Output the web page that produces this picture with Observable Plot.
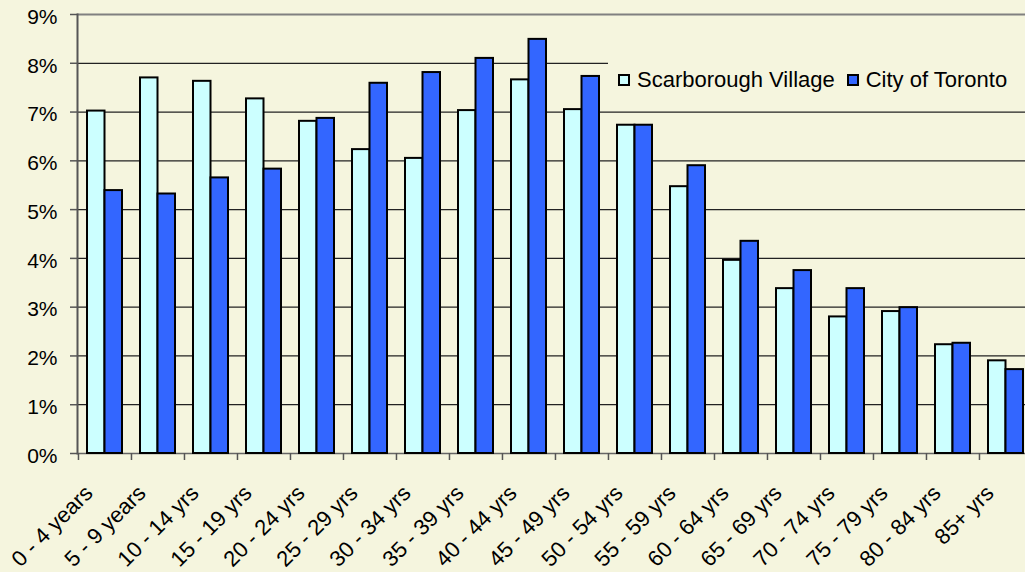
<!DOCTYPE html>
<html><head><meta charset="utf-8">
<script src="https://cdn.jsdelivr.net/npm/d3@7"></script>
<script src="https://cdn.jsdelivr.net/npm/@observablehq/plot@0.6"></script>
<style>
html,body{margin:0;padding:0;background:#F5F5DE;overflow:hidden;}
#wrap{position:relative;width:1025px;height:572px;overflow:hidden;}
#legend{position:absolute;left:608px;top:60px;width:417px;height:40px;background:#F5F5DE;font-family:"Liberation Sans",Arial,sans-serif;font-size:22px;color:#000;display:flex;align-items:center;white-space:nowrap;}
.sw{display:inline-block;box-sizing:border-box;width:12px;height:12px;border:2px solid #000;}
</style></head>
<body><div id="wrap"><div id="legend"></div></div>
<script>
const ageGroups = ["0 - 4 years","5 - 9 years","10 - 14 yrs","15 - 19 yrs","20 - 24 yrs","25 - 29 yrs","30 - 34 yrs","35 - 39 yrs","40 - 44 yrs","45 - 49 yrs","50 - 54 yrs","55 - 59 yrs","60 - 64 yrs","65 - 69 yrs","70 - 74 yrs","75 - 79 yrs","80 - 84 yrs","85+ yrs"];
const scarboroughVillage = [7.02,7.70,7.63,7.27,6.81,6.23,6.05,7.03,7.66,7.05,6.73,5.47,3.96,3.38,2.80,2.91,2.23,1.90];
const cityOfToronto = [5.39,5.32,5.65,5.83,6.87,7.59,7.81,8.10,8.49,7.73,6.73,5.90,4.35,3.75,3.38,2.99,2.26,1.72];
const yTicks = [0,1,2,3,4,5,6,7,8,9];
const seriesNames = ["Scarborough Village","City of Toronto"];
const seriesColors = ["#CCFFFF","#3366FF"];

const data = ageGroups.map((a,i)=>({age:a, sv:scarboroughVillage[i], to:cityOfToronto[i]}));
const font = "'Liberation Sans', Arial, sans-serif";
const step = (1032-77)/ageGroups.length;

const chart = Plot.plot({
  width:1025, height:572,
  marginLeft:77, marginTop:14, marginBottom:119, marginRight:0,
  style:{background:"#F5F5DE", fontFamily:font, fontSize:"21px", color:"#000"},
  x:{domain:ageGroups, range:[77,1032], paddingInner:0.34, paddingOuter:0.17, axis:null, label:null},
  y:{domain:[0,9], axis:null, label:null},
  marks:[
    Plot.ruleY(yTicks.filter(t=>t>0&&t<9), {stroke:"#222", strokeWidth:1.2}),
    Plot.ruleY([9], {stroke:"#808080", strokeWidth:2}),
    Plot.ruleY([0], {stroke:"#666", strokeWidth:1.5}),
    Plot.axisY({ticks:yTicks, tickSize:7, tickFormat:()=>"", stroke:"#555", strokeWidth:1.5, label:null}),
    Plot.text(yTicks, {y:d=>d, text:d=>d+"%", frameAnchor:"left", dx:-20, dy:2.5, textAnchor:"end", fontSize:21, fill:"#000"}),
    Plot.axisX({tickSize:7, tickFormat:()=>"", dx:-step/2, stroke:"#555", strokeWidth:1.5, label:null}),
    Plot.frame({anchor:"left", stroke:"#555", strokeWidth:2}),
    Plot.barY(data, {x:"age", y:"sv", fill:seriesColors[0], stroke:"#000", strokeWidth:2, insetRight:17.5}),
    Plot.barY(data, {x:"age", y:"to", fill:seriesColors[1], stroke:"#000", strokeWidth:2, insetLeft:17.5}),
    Plot.text(ageGroups, {x:d=>d, y:0, text:d=>d, dx:-16, dy:36, rotate:-45, textAnchor:"end", lineAnchor:"middle", fontSize:22, fill:"#000"})
  ]
});
document.getElementById("wrap").prepend(chart);

const legend = document.getElementById("legend");
seriesNames.forEach((name,i)=>{
  const sw = document.createElement("span");
  sw.className = "sw";
  sw.style.background = seriesColors[i];
  sw.style.marginLeft = i===0 ? "10px" : "12px";
  sw.style.marginRight = "7px";
  const t = document.createElement("span");
  t.textContent = name;
  legend.appendChild(sw);
  legend.appendChild(t);
});
</script>
</body></html>
